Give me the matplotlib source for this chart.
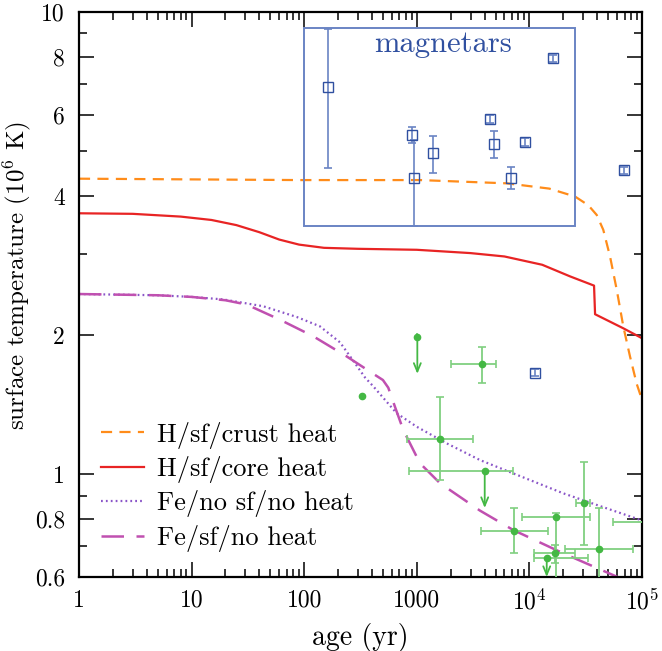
import matplotlib
matplotlib.use("Agg")
import matplotlib.pyplot as plt
from matplotlib.patches import Rectangle
from matplotlib.ticker import FixedLocator, FixedFormatter, NullFormatter

plt.rcParams["font.family"] = ["cmr10", "DejaVu Serif"]
plt.rcParams["mathtext.fontset"] = "cm"
plt.rcParams["axes.formatter.use_mathtext"] = True

# ── cooling curves (age in yr, T in 10^6 K) ──
crust_age = [1, 92, 1067, 6320, 15000, 25400, 33350, 39600, 45300, 52000, 59600, 68200, 78200, 89700, 1e5]
crust_T = [4.36, 4.33, 4.33, 4.26, 4.15, 3.99, 3.82, 3.64, 3.38, 2.96, 2.51, 2.09, 1.80, 1.57, 1.45]

core_age = [1, 3, 8, 15, 25, 40, 60, 90, 150, 300, 1000, 3000, 6000, 13000, 23000, 37500, 38300, 68200, 1e5]
core_T = [3.67, 3.66, 3.61, 3.55, 3.46, 3.34, 3.22, 3.14, 3.09, 3.075, 3.06, 3.01, 2.96, 2.84, 2.68, 2.56, 2.22, 2.07, 1.97]

fe_nosf_age = [1, 5, 10, 19.1, 43.3, 85.8, 138, 208, 273, 347, 411, 662, 998, 1845, 3640, 7190, 20000, 39600, 1e5]
fe_nosf_T = [2.455, 2.44, 2.42, 2.39, 2.31, 2.19, 2.09, 1.93, 1.76, 1.62, 1.55, 1.356, 1.268, 1.167, 1.074, 1.005, 0.910, 0.859, 0.795]

fe_sf_age = [1, 5, 10, 20, 30.8, 61, 120, 238, 411, 500, 558, 640, 759, 1067, 1607, 3640, 7190, 20000, 59600, 1e5]
fe_sf_T = [2.455, 2.44, 2.42, 2.38, 2.33, 2.16, 1.99, 1.80, 1.65, 1.60, 1.54, 1.40, 1.247, 1.057, 0.957, 0.835, 0.758, 0.675, 0.601, 0.57]

# ── magnetars ──
mag_age = [162, 912, 950, 1400, 4500, 4850, 6800, 9200, 16200, 68800, 11100]
mag_T = [6.89, 5.41, 4.38, 4.96, 5.87, 5.18, 4.38, 5.24, 7.94, 4.55, 1.66]
mag_T_lo = [4.60, 5.22, 3.45, 4.48, 5.76, 4.84, 4.14, 5.14, 7.80, 4.47, 1.63]
mag_T_hi = [9.19, 5.63, 5.29, 5.40, 5.98, 5.52, 4.61, 5.34, 8.08, 4.63, 1.69]

# ── thermally emitting NS: measured ──
ns_age = [3770, 1607, 7300, 17130, 30700, 41200, 16780, 1.5e5]
ns_age_lo = [2000, 813, 3690, 8550, 25900, 20700, 11050, 55200]
ns_age_hi = [5050, 3180, 14700, 34500, 34500, 82600, 25400, 2.5e5]
ns_T = [1.73, 1.195, 0.756, 0.810, 0.867, 0.689, 0.675, 0.79]
ns_T_lo = [1.58, 0.973, 0.677, 0.50, 0.704, 0.50, 0.644, 0.70]
ns_T_hi = [1.89, 1.47, 0.847, 0.826, 1.065, 0.847, 0.704, 0.90]

# no error bars
nsx_age = [328]
nsx_T = [1.478]

# upper limits
ul_age = [1011, 4010, 14250]
ul_age_lo = [1011, 859, 11050]
ul_age_hi = [1011, 7200, 33350]
ul_T = [1.985, 1.017, 0.659]
ul_T_tip = [1.65, 0.846, 0.60]

ORANGE = "#FF8C1A"
RED = "#E82424"
PURPLE = "#8A55C8"
MAGENTA = "#C050B0"
BLUE = "#3050A0"
BLUE_LT = "#6A84C4"
GREEN = "#44B844"
GREEN_LT = "#80D080"

fig = plt.figure(figsize=(6.62, 6.51), dpi=100)
ax = fig.add_axes([0.1193, 0.1137, 0.8505, 0.8679])
ax.set_xscale("log")
ax.set_yscale("log")

ax.plot(crust_age, crust_T, color=ORANGE, lw=1.6, dashes=(5, 3.3), label="H/sf/crust heat")
ax.plot(core_age, core_T, color=RED, lw=1.6, label="H/sf/core heat")
ax.plot(fe_nosf_age, fe_nosf_T, color=PURPLE, lw=1.6, dashes=(0.8, 1.4), label="Fe/no sf/no heat")
ax.plot(fe_sf_age, fe_sf_T, color=MAGENTA, lw=1.8, dashes=(9, 5), label="Fe/sf/no heat")

# magnetar box
ax.add_patch(Rectangle((100, 3.45), 2.54e4 - 100, 9.22 - 3.45, fill=False,
                       edgecolor=BLUE_LT, lw=1.4, zorder=2))
ax.text(1710, 8.53, "magnetars", color=BLUE, fontsize=22, ha="center", va="center")

yerr_m = [[t - lo for t, lo in zip(mag_T, mag_T_lo)], [hi - t for t, hi in zip(mag_T, mag_T_hi)]]
ax.errorbar(mag_age, mag_T, yerr=yerr_m, fmt="none", ecolor=BLUE_LT, elinewidth=1.2,
            capsize=3, capthick=1.2, zorder=3)
ax.plot(mag_age, mag_T, "s", ms=6.5, mfc="none", mec=BLUE, mew=1.0, zorder=4)

# thermal NS
xerr_n = [[a - lo for a, lo in zip(ns_age, ns_age_lo)], [hi - a for a, hi in zip(ns_age, ns_age_hi)]]
yerr_n = [[t - lo for t, lo in zip(ns_T, ns_T_lo)], [hi - t for t, hi in zip(ns_T, ns_T_hi)]]
ax.errorbar(ns_age, ns_T, xerr=xerr_n, yerr=yerr_n, fmt="o", ms=4.5, color=GREEN,
            ecolor=GREEN_LT, elinewidth=1.3, capsize=3, capthick=1.2, zorder=5)
ax.plot(nsx_age, nsx_T, "o", ms=4.5, color=GREEN, zorder=5)

xerr_u = [[a - lo for a, lo in zip(ul_age, ul_age_lo)], [hi - a for a, hi in zip(ul_age, ul_age_hi)]]
ax.errorbar(ul_age, ul_T, xerr=xerr_u, fmt="o", ms=4.5, color=GREEN, ecolor=GREEN_LT,
            elinewidth=1.3, capsize=3, capthick=1.2, zorder=5)
for a, t, tip in zip(ul_age, ul_T, ul_T_tip):
    ax.annotate("", xy=(a, tip), xytext=(a, t),
                arrowprops=dict(arrowstyle="->,head_length=0.6,head_width=0.25",
                                color=GREEN, lw=1.3, shrinkA=0, shrinkB=0))

ax.set_xlim(1, 1e5)
ax.set_ylim(0.6, 10)

ax.xaxis.set_major_locator(FixedLocator([1, 10, 100, 1000, 1e4, 1e5]))
ax.xaxis.set_major_formatter(FixedFormatter(["1", "10", "100", "1000", r"$10^4$", r"$10^5$"]))
ax.xaxis.set_minor_locator(FixedLocator([m * 10 ** d for d in range(5) for m in range(2, 10)]))
ax.xaxis.set_minor_formatter(NullFormatter())
ax.yaxis.set_major_locator(FixedLocator([0.6, 0.8, 1, 2, 4, 6, 8, 10]))
ax.yaxis.set_major_formatter(FixedFormatter(["0.6", "0.8", "1", "2", "4", "6", "8", "10"]))
ax.yaxis.set_minor_locator(FixedLocator([0.7, 0.9, 3, 5, 7, 9]))
ax.yaxis.set_minor_formatter(NullFormatter())

ax.tick_params(which="both", direction="in", top=True, right=True, labelsize=17, width=1.1)
ax.tick_params(which="major", length=10.5)
ax.tick_params(axis="x", which="major", pad=9)
ax.tick_params(axis="y", which="major", pad=10)
ax.tick_params(which="minor", length=6)
for s in ax.spines.values():
    s.set_linewidth(1.6)

ax.set_xlabel("age (yr)", fontsize=20)
ax.set_ylabel(r"surface temperature (10$^6$ K)", fontsize=18)
ax.xaxis.set_label_coords(0.5, -0.082)
ax.yaxis.set_label_coords(-0.082, 0.534)

ax.legend(loc="upper left", bbox_to_anchor=(0.04, 0.275), frameon=False, fontsize=19,
          handlelength=1.62, handletextpad=0.5, labelspacing=0.28,
          borderpad=0, borderaxespad=0)

fig.savefig("out.png", dpi=100)
